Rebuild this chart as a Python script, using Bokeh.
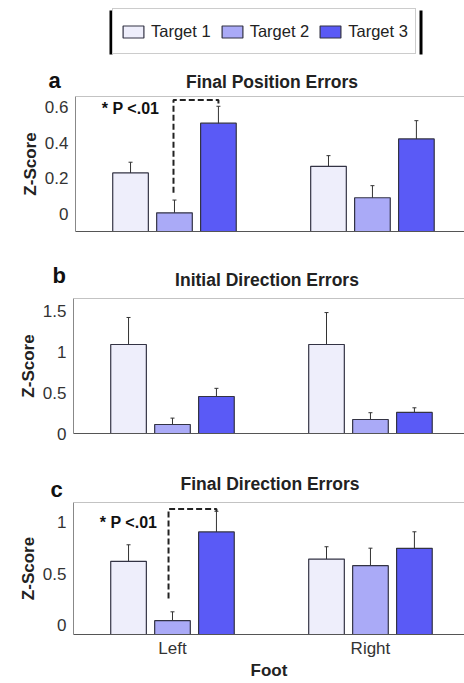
from bokeh.plotting import figure
from bokeh.models import (Range1d, FixedTicker, Whisker, TeeHead, ColumnDataSource,
                          Legend, LegendItem, Label, Span, BoxAnnotation)
from bokeh.layouts import column
from bokeh.embed import file_html
from bokeh.resources import INLINE

# ---------------- data ----------------
feet = ["Left", "Right"]
targets = ["Target 1", "Target 2", "Target 3"]

# Final Position Errors (mean, s.e.) per target, order: Left, Right
fpe_mean = {"Target 1": [0.23, 0.267], "Target 2": [0.005, 0.09], "Target 3": [0.51, 0.421]}
fpe_err = {"Target 1": [0.06, 0.06], "Target 2": [0.072, 0.068], "Target 3": [0.095, 0.103]}

# Initial Direction Errors
ide_mean = {"Target 1": [1.088, 1.088], "Target 2": [0.11, 0.171], "Target 3": [0.452, 0.257]}
ide_err = {"Target 1": [0.33, 0.39], "Target 2": [0.078, 0.083], "Target 3": [0.10, 0.057]}

# Final Direction Errors
fde_mean = {"Target 1": [0.62, 0.641], "Target 2": [0.044, 0.577], "Target 3": [0.905, 0.746]}
fde_err = {"Target 1": [0.16, 0.12], "Target 2": [0.086, 0.17], "Target 3": [0.2, 0.16]}

yticks_a = [0, 0.2, 0.4, 0.6]
ylabels_a = ["0", "0.2", "0.4", "0.6"]
yticks_b = [0, 0.5, 1, 1.5]
ylabels_b = ["0", "0.5", "1", "1.5"]
yticks_c = [0, 0.5, 1]
ylabels_c = ["0", "0.5", "1"]

panel_letters = ["a", "b", "c"]
panel_titles = ["Final Position Errors", "Initial Direction Errors", "Final Direction Errors"]

sig_text = "* P <.01"
sig_a_bottom = 0.118   # lower end of dashed bracket (panel a)
sig_a_top = 0.64       # top of dashed bracket (panel a)
sig_c_bottom = 0.26
sig_c_top = 1.127

# ---------------- style ----------------
FONT = "Liberation Sans"
fills = {"Target 1": "#EEEEFB", "Target 2": "#AAAAF7", "Target 3": "#5A5AF6"}
edge = "#333344"
offsets = {"Target 1": -0.222, "Target 2": 0.0, "Target 3": 0.222}
BAR_W = 0.18
W = 464


def blank_fig(height):
    f = figure(width=W, height=height, output_backend="svg", toolbar_location=None,
               x_range=Range1d(0, W), y_range=Range1d(0, height),
               x_axis_location=None, y_axis_location=None,
               min_border=0, min_border_left=0, min_border_right=0,
               min_border_top=0, min_border_bottom=0)
    f.frame_align = False
    f.outline_line_color = None
    f.grid.visible = False
    return f


def header(height, letter, lx, ly, title, tx, ty):
    h = blank_fig(height)
    h.add_layout(Label(x=lx, y=ly, text=letter, text_font=FONT, text_font_size="22px",
                       text_font_style="bold", text_color="#111111",
                       text_baseline="middle"))
    h.add_layout(Label(x=tx, y=ty, text=title, text_align="center", text_font=FONT,
                       text_font_size="17.5px", text_font_style="bold", text_color="#222222",
                       text_baseline="middle"))
    return h


def make_panel(height, top_border, bottom_border, left_border, x_end, y_start, y_end,
               means, errs, yticks, ylabels, show_x=False):
    p = figure(width=W, height=height, output_backend="svg", toolbar_location=None,
               x_range=Range1d(0.5, x_end), y_range=Range1d(y_start, y_end),
               min_border_top=top_border, min_border_bottom=bottom_border,
               min_border_left=left_border, min_border_right=0)
    p.frame_align = False
    p.outline_line_color = None
    p.grid.visible = False

    for t in targets:
        xs = [i + 1 + offsets[t] for i in range(len(feet))]
        src = ColumnDataSource(dict(
            x=xs, top=means[t], bottom=[y_start] * len(feet),
            upper=[m + e for m, e in zip(means[t], errs[t])],
            lower=[m - e for m, e in zip(means[t], errs[t])]))
        p.vbar(x="x", top="top", bottom="bottom", width=BAR_W, source=src,
               fill_color=fills[t], line_color=edge, line_width=1.2)
        p.add_layout(Whisker(base="x", upper="upper", lower="lower", source=src,
                             line_color="#333333", line_width=1,
                             upper_head=TeeHead(size=4, line_color="#333333", line_width=1),
                             lower_head=TeeHead(size=4, line_color="#333333", line_width=1)))

    # frame top line
    p.add_layout(Span(location=y_end, dimension="width", line_color="#888888", line_width=1))

    ya = p.yaxis[0]
    ya.ticker = FixedTicker(ticks=yticks)
    ya.major_label_overrides = {k: v for k, v in zip(yticks, ylabels)}
    ya.major_tick_out = 0
    ya.major_tick_in = 0
    ya.minor_tick_out = 0
    ya.minor_tick_in = 0
    ya.major_label_standoff = 7
    ya.major_label_text_font = FONT
    ya.major_label_text_font_size = "17px"
    ya.major_label_text_color = "#333333"
    ya.axis_line_color = "#888888"
    ya.axis_label = "Z-Score"
    ya.axis_label_text_font = FONT
    ya.axis_label_text_font_size = "17px"
    ya.axis_label_text_font_style = "bold"
    ya.axis_label_text_color = "#222222"
    ya.axis_label_standoff = 2

    xa = p.xaxis[0]
    xa.axis_line_color = "#555555"
    xa.major_tick_out = 0
    xa.major_tick_in = 0
    xa.minor_tick_out = 0
    xa.minor_tick_in = 0
    if show_x:
        xa.ticker = FixedTicker(ticks=[1, 2])
        xa.major_label_overrides = {1: feet[0], 2: feet[1]}
        xa.major_label_standoff = 4
        xa.major_label_text_font = FONT
        xa.major_label_text_font_size = "17px"
        xa.major_label_text_color = "#333333"
        xa.axis_label = "Foot"
        xa.axis_label_text_font = FONT
        xa.axis_label_text_font_size = "17px"
        xa.axis_label_text_font_style = "bold"
        xa.axis_label_text_color = "#222222"
        xa.axis_label_standoff = 0
    else:
        xa.ticker = FixedTicker(ticks=[])
    return p


def add_sig(p, means, errs, bottom, top, text_y, dx):
    x2 = 1 + offsets["Target 2"] + dx
    x3 = 1 + offsets["Target 3"]
    t3_top = means["Target 3"][0] + errs["Target 3"][0]
    p.line(x=[x2, x2, x3, x3], y=[bottom, top, top, t3_top], line_color="#222222",
           line_width=2, line_dash="6 3")
    p.add_layout(Label(x=1 + offsets["Target 1"], y=text_y, text=sig_text, text_align="center",
                       text_baseline="alphabetic", text_font=FONT, text_font_size="16px",
                       text_font_style="bold", text_color="#111111"))


# ---------------- panels ----------------
pa = make_panel(143, 1, 7, 75, 2.465, -0.1, 0.66, fpe_mean, fpe_err, yticks_a, ylabels_a)
add_sig(pa, fpe_mean, fpe_err, sig_a_bottom, sig_a_top, 0.593, -0.005)

pb = make_panel(146, 1, 10, 73, 2.475, 0.0, 1.65, ide_mean, ide_err, yticks_b, ylabels_b)

pc = make_panel(181, 1, 45, 73, 2.475, -0.09, 1.19, fde_mean, fde_err, yticks_c, ylabels_c,
                show_x=True)
add_sig(pc, fde_mean, fde_err, sig_c_bottom, sig_c_top, 0.993, -0.02)

# ---------------- legend figure ----------------
LEG_H = 62
leg = blank_fig(LEG_H)
items = []
for t in targets:
    r = leg.vbar(x=[1, 2], top=fpe_mean[t], width=BAR_W, fill_color=fills[t],
                 line_color=edge, line_width=1.2, visible=False)
    items.append(LegendItem(label=t, renderers=[r]))
legend = Legend(items=items, orientation="horizontal", location=(112, 8),
                border_line_color="#999999", border_line_width=1,
                padding=7, spacing=8, margin=0, glyph_width=26, glyph_height=15,
                label_standoff=5, label_height=30, label_text_font=FONT,
                label_text_font_size="16.5px", label_text_color="#222222",
                background_fill_color="white", background_fill_alpha=1)
leg.add_layout(legend, "center")
leg.add_layout(BoxAnnotation(left=109, right=112, bottom=8, top=52, fill_color="black",
                             fill_alpha=1, line_color=None, level="overlay"))
leg.add_layout(BoxAnnotation(left=419, right=422, bottom=8, top=52, fill_color="black",
                             fill_alpha=1, line_color=None, level="overlay"))

# ---------------- headers ----------------
ha = header(33, panel_letters[0], 48, 14.6, panel_titles[0], 271.5, 14)
hb = header(59, panel_letters[1], 52, 21.6, panel_titles[1], 266.5, 18)
hc = header(58, panel_letters[2], 50, 11.6, panel_titles[2], 269.5, 18)

layout = column(leg, ha, pa, hb, pb, hc, pc, spacing=0)
open("out.html", "w").write(file_html(layout, INLINE))
